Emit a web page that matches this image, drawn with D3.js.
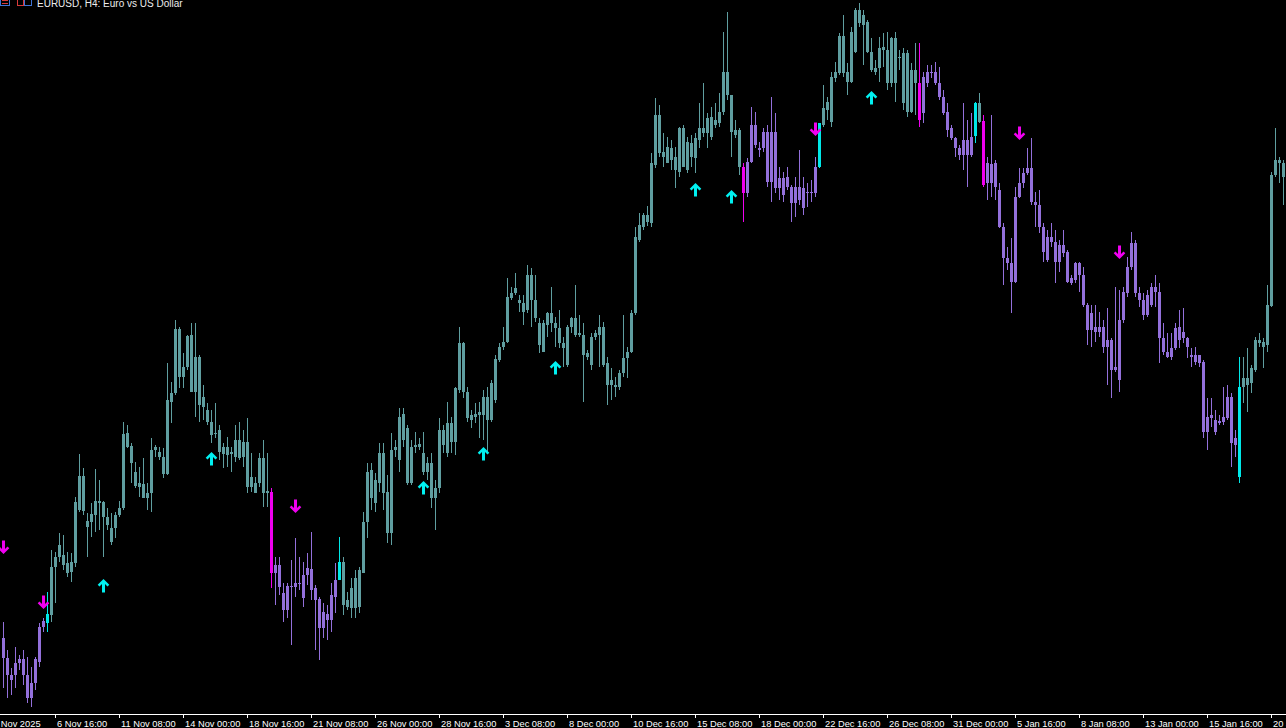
<!DOCTYPE html>
<html><head><meta charset="utf-8">
<script src="https://cdn.jsdelivr.net/npm/d3@7"></script>
<style>html,body{margin:0;padding:0;background:#000;overflow:hidden}svg{display:block}</style>
</head><body><svg id="c" width="1286" height="728"></svg>
<script>
const symbolTitle = "EURUSD, H4:  Euro vs US Dollar";
const timeLabels = ["4 Nov 2025","6 Nov 16:00","11 Nov 08:00","14 Nov 00:00","18 Nov 16:00","21 Nov 08:00","26 Nov 00:00","28 Nov 16:00","3 Dec 08:00","8 Dec 00:00","10 Dec 16:00","15 Dec 08:00","18 Dec 00:00","22 Dec 16:00","26 Dec 08:00","31 Dec 00:00","5 Jan 16:00","8 Jan 08:00","13 Jan 00:00","15 Jan 16:00","20 Jan 08:00"];
const firstLabelBar = -3, barsPerLabel = 16;

const open = [
1.1491,1.1481,1.14725,1.14725,1.14785,1.14805,1.14725,1.1461,1.14685,1.1479,
1.14965,1.14985,1.15025,1.15265,1.15315,1.15325,1.15285,1.1524,1.15285,1.1555,
1.1572,1.15495,1.1549,1.15525,1.15595,1.1559,1.15515,1.1546,1.1546,1.15525,
1.1556,1.15935,1.1587,1.1574,1.15665,1.1568,1.1561,1.15635,1.1585,1.1584,
1.15815,1.1573,1.1609,1.16135,1.16455,1.16215,1.16265,1.16425,1.1614,1.16315,
1.16115,1.1605,1.1599,1.1593,1.1595,1.1583,1.15865,1.1583,1.15815,1.159,
1.15815,1.1589,1.15665,1.15685,1.15685,1.1581,1.15635,1.1564,1.15235,1.15275,
1.15135,1.1505,1.1517,1.15165,1.15185,1.1511,1.15225,1.15255,1.1516,1.15105,
1.1496,1.1503,1.15,1.15115,1.152,1.1529,1.15065,1.1516,1.1506,1.15065,
1.15235,1.1549,1.1575,1.15585,1.15685,1.15835,1.1564,1.15435,1.1585,1.158,
1.1603,1.1596,1.15685,1.15865,1.1588,1.15835,1.1574,1.15785,1.1561,1.1566,
1.1595,1.15835,1.15985,1.1589,1.1615,1.16385,1.1614,1.16,1.1603,1.16025,
1.16025,1.16115,1.16,1.161,1.163,1.16365,1.1639,1.1661,1.16635,1.166,
1.16585,1.1655,1.16725,1.166,1.16485,1.1634,1.16475,1.16535,1.16485,1.1646,
1.16385,1.16275,1.16465,1.1651,1.16425,1.16425,1.16315,1.16275,1.16415,1.16425,
1.16465,1.16285,1.16175,1.16175,1.16165,1.16235,1.1631,1.1634,1.16535,1.169,
1.16965,1.17025,1.16985,1.17275,1.17525,1.1734,1.17285,1.1736,1.17315,1.1724,
1.1746,1.1725,1.17385,1.1731,1.174,1.1746,1.17435,1.17515,1.17475,1.17485,
1.1754,1.1774,1.17625,1.1745,1.1745,1.17265,1.17135,1.1729,1.17475,1.1736,
1.1736,1.1744,1.1719,1.1744,1.1716,1.1721,1.17165,1.17165,1.17085,1.17165,
1.1716,1.17135,1.1714,1.17135,1.17265,1.17475,1.1755,1.1749,1.1771,1.17735,
1.1792,1.1774,1.1769,1.1784,1.1805,1.17975,1.1799,1.1784,1.1774,1.1776,
1.1785,1.1785,1.17685,1.1791,1.1781,1.17835,1.1754,1.1775,1.17685,1.17685,
1.17535,1.17685,1.1774,1.1774,1.17685,1.17615,1.1754,1.1746,1.1741,1.1736,
1.17325,1.174,1.17325,1.1742,1.17585,1.17495,1.17185,1.1728,1.17285,1.1715,
1.16965,1.1681,1.16785,1.1669,1.17115,1.17185,1.17235,1.1726,1.1709,1.17075,
1.16965,1.168,1.16915,1.1689,1.1679,1.16875,1.1684,1.16685,1.167,1.16785,
1.16725,1.16575,1.1645,1.16465,1.1644,1.16465,1.16365,1.164,1.1625,1.162,
1.165,1.16635,1.16765,1.16885,1.16635,1.166,1.16525,1.16575,1.16665,1.1664,
1.1641,1.1634,1.16315,1.1636,1.16465,1.1641,1.1641,1.16325,1.16325,1.16285,
1.1629,1.1594,1.1601,1.16,1.15985,1.1599,1.1601,1.16115,1.15875,1.15715,
1.16165,1.1621,1.16185,1.1625,1.164,1.1639,1.16375,1.1657,1.17225,1.173,1.17285];

const high = [
1.1499,1.1485,1.1476,1.14865,1.14825,1.1485,1.14815,1.14765,1.14815,1.14985,
1.1501,1.1514,1.1535,1.1534,1.15435,1.15425,1.1534,1.15335,1.15615,1.1583,
1.1576,1.15535,1.15585,1.15755,1.157,1.15595,1.1556,1.15535,1.1554,1.15595,
1.1599,1.15975,1.15885,1.1579,1.15765,1.1581,1.15685,1.1591,1.15875,1.15865,
1.1586,1.16285,1.1619,1.165,1.16465,1.16335,1.16425,1.16485,1.16485,1.16325,
1.16175,1.16085,1.1605,1.16085,1.15975,1.15885,1.15915,1.15865,1.15975,1.1599,
1.1595,1.1601,1.15835,1.15715,1.15835,1.159,1.15835,1.1566,1.15315,1.15315,
1.15185,1.15185,1.153,1.1541,1.15315,1.1529,1.15335,1.1544,1.15175,1.15115,
1.15085,1.15075,1.15185,1.15285,1.15415,1.15315,1.1514,1.1521,1.1525,1.15265,
1.1554,1.15785,1.15785,1.15735,1.15885,1.15885,1.15725,1.15935,1.159,1.1606,
1.1606,1.15975,1.159,1.1594,1.1591,1.1594,1.15815,1.15835,1.157,1.1601,
1.15975,1.1609,1.16015,1.16165,1.16465,1.1639,1.16165,1.1605,1.16085,1.1609,
1.1615,1.16165,1.162,1.16325,1.16385,1.16465,1.1671,1.16665,1.16735,1.16625,
1.16625,1.16775,1.1676,1.16725,1.1651,1.165,1.1654,1.16665,1.16515,1.1655,
1.16415,1.16475,1.16515,1.16675,1.16525,1.16485,1.1635,1.16435,1.1645,1.16525,
1.1649,1.16315,1.1626,1.16215,1.1625,1.16525,1.16365,1.1655,1.16965,1.17035,
1.17035,1.1707,1.17335,1.1761,1.17575,1.17435,1.17415,1.174,1.17365,1.17465,
1.17475,1.17415,1.17425,1.17435,1.17585,1.17685,1.17535,1.17565,1.17585,1.17635,
1.1794,1.1804,1.17625,1.175,1.1746,1.17285,1.1731,1.17565,1.1754,1.1739,
1.1746,1.17475,1.17615,1.17535,1.17265,1.1724,1.17265,1.17175,1.17215,1.1735,
1.17215,1.17185,1.172,1.17315,1.17485,1.17675,1.17615,1.1774,1.1779,1.17935,
1.18025,1.17785,1.17965,1.1806,1.18085,1.1805,1.18,1.1791,1.178,1.17915,
1.17935,1.1794,1.17915,1.1794,1.1785,1.1786,1.1785,1.17785,1.17885,1.17885,
1.1774,1.17775,1.17775,1.1779,1.17765,1.1765,1.17585,1.17475,1.17415,1.17375,
1.17585,1.175,1.17535,1.1759,1.17635,1.17525,1.17315,1.17525,1.173,1.17185,
1.16985,1.16865,1.1691,1.17165,1.1726,1.1726,1.1736,1.1741,1.1714,1.1715,
1.16985,1.1695,1.16985,1.1695,1.169,1.1695,1.1685,1.16725,1.1679,1.1679,
1.16765,1.16585,1.16575,1.16575,1.1654,1.165,1.1656,1.1641,1.16665,1.1665,
1.16665,1.16815,1.1694,1.169,1.16665,1.16635,1.1665,1.16685,1.16725,1.16685,
1.16485,1.16435,1.16435,1.16485,1.1655,1.1656,1.16415,1.1636,1.16365,1.16325,
1.163,1.1611,1.1611,1.1605,1.16025,1.16165,1.16175,1.16135,1.1595,1.16315,
1.16315,1.1636,1.16275,1.16415,1.16435,1.1641,1.16675,1.1724,1.1746,1.17315,1.173];

const low = [
1.1466,1.1461,1.14625,1.1466,1.1475,1.14675,1.14585,1.14565,1.1465,1.14765,
1.1494,1.1494,1.1499,1.15085,1.1529,1.1525,1.15215,1.1519,1.15265,1.1554,
1.15525,1.15315,1.15415,1.1544,1.1545,1.15315,1.1545,1.15375,1.1541,1.15515,
1.1555,1.1586,1.15685,1.1566,1.15615,1.1561,1.1555,1.1554,1.15815,1.158,
1.1571,1.15725,1.15985,1.16125,1.1616,1.1616,1.1625,1.1614,1.16015,1.1599,
1.16,1.15975,1.15885,1.1591,1.158,1.1576,1.15765,1.1574,1.1579,1.158,
1.15765,1.15635,1.1564,1.15635,1.15665,1.15565,1.15565,1.1516,1.15075,1.15125,
1.1499,1.1501,1.14875,1.15115,1.1515,1.15065,1.15175,1.151,1.1485,1.148,
1.1491,1.149,1.1494,1.15035,1.152,1.15025,1.1505,1.1501,1.1501,1.15035,
1.15235,1.1541,1.1555,1.1554,1.1564,1.1555,1.15385,1.15375,1.15815,1.1574,
1.15865,1.15675,1.15675,1.15835,1.1585,1.15725,1.157,1.1556,1.1545,1.15635,
1.15835,1.15815,1.15835,1.15825,1.16135,1.1611,1.1599,1.1596,1.15985,1.1591,
1.159,1.15835,1.1599,1.16085,1.1629,1.1635,1.16385,1.166,1.16625,1.1654,
1.16475,1.16535,1.16465,1.1649,1.16335,1.1634,1.16415,1.1644,1.16365,1.1636,
1.16265,1.16265,1.16435,1.16415,1.16415,1.1609,1.163,1.1625,1.164,1.16265,
1.16265,1.16075,1.161,1.16115,1.1615,1.16215,1.1621,1.16335,1.16525,1.1689,
1.1695,1.1697,1.16965,1.1726,1.17315,1.17265,1.17285,1.1725,1.1716,1.17215,
1.17265,1.17235,1.17265,1.17235,1.1736,1.17415,1.1736,1.174,1.1746,1.17465,
1.17525,1.176,1.17315,1.1741,1.17225,1.1699,1.17115,1.17285,1.1736,1.17315,
1.1734,1.17165,1.1709,1.17135,1.171,1.1709,1.1715,1.1699,1.17015,1.17075,
1.17025,1.17065,1.1709,1.17115,1.1726,1.17465,1.175,1.17465,1.1769,1.17725,
1.17715,1.17625,1.17685,1.17835,1.17965,1.17775,1.17835,1.1774,1.17725,1.1769,
1.17765,1.1765,1.17665,1.1759,1.1775,1.1755,1.17515,1.17535,1.17525,1.17465,
1.17485,1.17665,1.1771,1.17675,1.176,1.17525,1.17415,1.174,1.17315,1.173,
1.1725,1.17165,1.17315,1.17385,1.17485,1.17165,1.171,1.17115,1.171,1.1696,
1.16675,1.1675,1.16535,1.16685,1.1711,1.1716,1.17225,1.17075,1.16965,1.16935,
1.1679,1.1679,1.16865,1.16685,1.1674,1.16815,1.16685,1.16675,1.16685,1.1664,
1.16565,1.16375,1.16365,1.1639,1.16415,1.16335,1.16175,1.1611,1.1624,1.1614,
1.16485,1.16615,1.1675,1.16615,1.16565,1.165,1.16515,1.16565,1.16565,1.16285,
1.16325,1.1631,1.163,1.1635,1.1636,1.16385,1.1631,1.16265,1.16275,1.16265,
1.1591,1.1585,1.15965,1.15925,1.15975,1.15975,1.16,1.15765,1.15815,1.15685,
1.16085,1.1604,1.16135,1.1624,1.16365,1.1626,1.1634,1.16565,1.17215,1.17185,1.17075];

const close = [
1.1481,1.14725,1.147,1.14785,1.14805,1.14725,1.1461,1.14685,1.14805,1.14965,
1.14995,1.1503,1.15265,1.15315,1.15375,1.15275,1.15235,1.1529,1.1559,1.1572,
1.15545,1.15465,1.1553,1.15595,1.15585,1.15515,1.15475,1.1539,1.15525,1.1556,
1.1593,1.15865,1.15785,1.1567,1.15685,1.1561,1.15635,1.1585,1.15865,1.15815,
1.1573,1.161,1.16135,1.16455,1.16215,1.16265,1.1642,1.1614,1.16315,1.16075,
1.16065,1.1599,1.15925,1.15935,1.1584,1.15865,1.15825,1.1584,1.159,1.1581,
1.1589,1.15665,1.15715,1.15635,1.1581,1.15635,1.15645,1.15235,1.15275,1.15165,
1.1505,1.1517,1.15165,1.15185,1.1518,1.15225,1.1526,1.1515,1.151,1.1496,
1.1504,1.15,1.15125,1.152,1.1529,1.15075,1.151,1.1506,1.1521,1.1525,
1.1549,1.1574,1.1561,1.157,1.15835,1.15635,1.15435,1.1585,1.15865,1.16015,
1.159,1.15685,1.15865,1.15875,1.15865,1.1574,1.15785,1.1561,1.1566,1.1595,
1.15875,1.15985,1.1589,1.1616,1.16385,1.1614,1.1601,1.16025,1.16015,1.1604,
1.16115,1.16,1.16185,1.16305,1.16365,1.1639,1.16615,1.16635,1.1666,1.16585,
1.1654,1.16725,1.166,1.1651,1.16375,1.16485,1.16535,1.16485,1.1646,1.16385,
1.1636,1.16465,1.1651,1.16425,1.16435,1.16325,1.16335,1.16415,1.16435,1.16465,
1.16275,1.16175,1.162,1.16165,1.16235,1.1631,1.1634,1.16535,1.16915,1.16975,
1.17025,1.1699,1.17285,1.17525,1.17335,1.17315,1.17365,1.173,1.1725,1.1746,
1.17265,1.1739,1.17315,1.1741,1.1746,1.17435,1.1751,1.17415,1.175,1.1754,
1.1774,1.17625,1.1744,1.17425,1.17265,1.17135,1.1729,1.17475,1.17375,1.1735,
1.1744,1.1719,1.1744,1.1716,1.1721,1.17125,1.17215,1.17085,1.17165,1.171,
1.1706,1.1714,1.17135,1.17265,1.17485,1.1756,1.1759,1.17715,1.1774,1.1792,
1.17735,1.1769,1.1794,1.1805,1.17985,1.18025,1.1784,1.1775,1.1776,1.1786,
1.17865,1.17685,1.1791,1.17685,1.17815,1.17585,1.17835,1.1754,1.1775,1.175,
1.17715,1.1774,1.17735,1.17685,1.17615,1.17535,1.1745,1.1741,1.1736,1.17325,
1.174,1.17325,1.17415,1.17585,1.1749,1.17175,1.17285,1.17185,1.17165,1.16965,
1.1681,1.16785,1.1669,1.17115,1.17185,1.17235,1.1726,1.1709,1.17075,1.16965,
1.1684,1.16915,1.1689,1.1679,1.16875,1.16835,1.1669,1.1671,1.16785,1.16725,
1.16575,1.1645,1.16535,1.1644,1.16465,1.16365,1.164,1.1625,1.16265,1.165,
1.1664,1.16765,1.16885,1.16635,1.166,1.16525,1.16625,1.16665,1.1664,1.1641,
1.1634,1.16315,1.1636,1.1646,1.164,1.1644,1.16365,1.16315,1.1629,1.16325,
1.1594,1.16015,1.16025,1.1594,1.15995,1.16015,1.16115,1.15885,1.1591,1.16165,
1.1621,1.16175,1.1626,1.164,1.16385,1.16365,1.16575,1.17225,1.173,1.17285,1.17215];

// trend-change signal candles
const signalUpBars = [11, 84, 204, 243, 309];
const signalDownBars = [67, 185, 229, 245];
// arrow markers
const arrowUpBars = [25, 52, 105, 120, 138, 173, 182, 217];
const arrowUpPrices = [1.1517, 1.15805, 1.1566, 1.1583, 1.1626, 1.1715, 1.17115, 1.1761];
const arrowDownBars = [0, 10, 73, 203, 254, 279];
const arrowDownPrices = [1.15365, 1.1509, 1.1557, 1.17455, 1.17435, 1.1684];

const COLORS = {up: "#5f9ea0", down: "#9370db", sigUp: "#00e8e8", sigDown: "#f000f0", arrowUp: "#00f0f0", arrowDown: "#f000f0"};

const W = 1286, H = 728;
const n = Math.min(open.length, high.length, low.length, close.length);
const svg = d3.select("#c");
svg.append("rect").attr("width", W).attr("height", H).attr("fill", "#000");

const x = d3.scaleLinear().domain([0, 320]).range([3, 1283]);
const y = d3.scaleLinear().domain([1.1446, 1.1810]).range([728, 0]);

const bars = d3.range(n).map(i => ({i, o: open[i], h: high[i], l: low[i], c: close[i]}));
let state = "down";
bars.forEach(b => {
  if (signalUpBars.includes(b.i)) { b.color = COLORS.sigUp; state = "up"; }
  else if (signalDownBars.includes(b.i)) { b.color = COLORS.sigDown; state = "down"; }
  else b.color = state === "up" ? COLORS.up : COLORS.down;
});

const gC = svg.append("g").attr("shape-rendering", "crispEdges");
const cg = gC.selectAll("g").data(bars).join("g");
cg.append("rect")
  .attr("x", d => Math.round(x(d.i)))
  .attr("y", d => Math.round(y(Math.max(d.h, d.o, d.c))))
  .attr("width", 1)
  .attr("height", d => Math.max(1, Math.round(y(Math.min(d.l, d.o, d.c))) - Math.round(y(Math.max(d.h, d.o, d.c)))))
  .attr("fill", d => d.color);
cg.append("rect")
  .attr("x", d => Math.round(x(d.i)) - 1)
  .attr("y", d => Math.round(y(Math.max(d.o, d.c))))
  .attr("width", 3)
  .attr("height", d => Math.max(1, Math.round(y(Math.min(d.o, d.c))) - Math.round(y(Math.max(d.o, d.c)))))
  .attr("fill", d => d.color);

// arrows
const downPath = "M-1.5,-6.5H1.5V2L4,-0.5L5.8,1.3L0,7L-5.8,1.3L-4,-0.5L-1.5,2Z";
const upPath = "M-1.5,6.5H1.5V-2L4,0.5L5.8,-1.3L0,-7L-5.8,-1.3L-4,0.5L-1.5,-2Z";
svg.append("g").selectAll("path").data(arrowUpBars.map((b, k) => ({b, p: arrowUpPrices[k]}))).join("path")
  .attr("d", upPath)
  .attr("transform", d => `translate(${x(d.b) + 0.5},${y(d.p)})`)
  .attr("fill", COLORS.arrowUp);
svg.append("g").selectAll("path").data(arrowDownBars.map((b, k) => ({b, p: arrowDownPrices[k]}))).join("path")
  .attr("d", downPath)
  .attr("transform", d => `translate(${x(d.b) + 0.5},${y(d.p)})`)
  .attr("fill", COLORS.arrowDown);

// time axis
const tickBars = timeLabels.map((_, k) => firstLabelBar + barsPerLabel * k);
const xAxis = d3.axisBottom(x).tickValues(tickBars).tickFormat((d, k) => timeLabels[k]).tickSize(4).tickPadding(2);
const ax = svg.append("g").attr("transform", "translate(0,714)").style("color", "#fff").call(xAxis);
ax.select(".domain").remove();
ax.selectAll(".tick line").attr("shape-rendering", "crispEdges");
ax.selectAll(".tick text").attr("text-anchor", "start").attr("dx", 1.5)
  .attr("font-family", "'Liberation Sans', Arial, sans-serif").attr("font-size", 9.3).attr("fill", "#fff");
svg.append("line").attr("x1", 0).attr("x2", W).attr("y1", 714.5).attr("y2", 714.5)
  .attr("stroke", "#fff").attr("stroke-width", 1).attr("shape-rendering", "crispEdges");

// title with icons
const ti = svg.append("g").attr("shape-rendering", "crispEdges");
ti.append("rect").attr("x", 0.5).attr("y", -3.5).attr("width", 9).attr("height", 9).attr("fill", "none").attr("stroke", "#3f74d6");
[ -0.5, 2.5].forEach(yy => ti.append("rect").attr("x", 2).attr("y", yy).attr("width", 6).attr("height", 1).attr("fill", "#d83a3a"));
ti.append("rect").attr("x", 17.5).attr("y", -3.5).attr("width", 6).attr("height", 9).attr("fill", "none").attr("stroke", "#d83a3a");
ti.append("rect").attr("x", 24.5).attr("y", -3.5).attr("width", 7).attr("height", 9).attr("fill", "none").attr("stroke", "#3f74d6");
svg.append("text").attr("x", 37).attr("y", 6.5).text(symbolTitle)
  .attr("font-family", "'Liberation Sans', Arial, sans-serif").attr("font-size", 10).attr("fill", "#ececec");
</script>
</body></html>
